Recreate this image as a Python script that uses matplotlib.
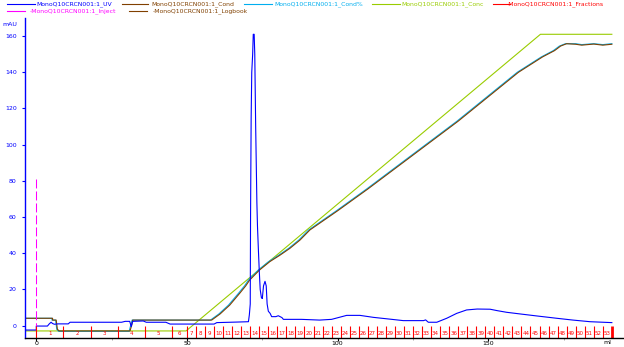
import matplotlib
matplotlib.use("Agg")
import matplotlib.pyplot as plt
from matplotlib.lines import Line2D

RUN = "MonoQ10CRCN001:1"

# UV trace (ml, mAU)
uv_ml = [-3.75, 0, 0, 3.7, 4.3, 4.9, 5.4, 6.0, 7.2, 10.6, 11.2, 28.3, 29.5, 31.0, 31.5, 32.0,
         35.5, 36.5, 43.0, 44.4, 59.0, 59.9, 66.5, 70.4, 70.7, 71.0, 71.1, 71.3, 71.5, 71.8,
         72.0, 72.3, 72.5, 72.8, 73.2, 73.4, 73.7, 74.0, 74.3, 74.7, 75.0, 75.4, 75.9, 76.3,
         76.6, 77.0, 77.6, 78.1, 79.5, 80.3, 81.5, 82.0, 88.0, 94.0, 98.0, 103.0, 107.4,
         111.9, 118.0, 121.8, 128.5, 129.2, 130.1, 132.9, 136.2, 139.5, 142.8, 146.3, 150.6,
         153.0, 156.1, 160.5, 166.0, 172.7, 178.1, 183.8, 191.0]
uv_mau = [-2.4, -2.4, -0.2, -0.2, 1.0, 1.9, 1.2, 0.8, 1.0, 1.0, 1.9, 1.9, 2.4, 2.4, -0.5, 2.4,
          2.6, 1.9, 1.9, 0.9, 0.9, 1.7, 2.0, 2.2, 6.0, 12.0, 60.0, 115.0, 140.0, 150.0,
          161.0, 161.0, 150.0, 110.0, 68.0, 55.0, 42.0, 30.0, 20.0, 15.5, 15.0, 22.0, 24.5, 22.0,
          12.0, 8.0, 6.8, 5.0, 5.0, 5.5, 4.5, 3.5, 3.5, 3.1, 3.5, 5.7, 5.7,
          4.6, 3.5, 2.8, 2.8, 3.2, 1.9, 1.9, 4.1, 6.8, 8.7, 9.2, 9.1,
          8.3, 7.4, 6.5, 5.4, 4.1, 3.1, 2.2, 1.7]

# Conductivity
cond_ml = [-3.75, 5.4, 5.4, 6.6, 7.0, 7.6, 31.1, 31.6, 32.0, 58.2, 61.0, 64.2, 67.5, 69.5,
           70.8, 74.1, 77.5, 80.9, 84.2, 87.5, 90.8, 100, 110, 120, 130, 140, 150, 160, 168,
           172, 174, 176, 179, 181, 185, 188, 191]
cond_val = [4.1, 4.1, 3.1, 3.1, -2.0, -2.9, -2.9, 0.0, 3.1, 3.1, 6.5, 11.4, 17.9, 22.0,
            25.2, 30.8, 35.4, 39.0, 42.8, 47.3, 52.9, 63.5, 75.5, 88.0, 100.5, 113.0, 126.5, 140.0, 148.5,
            152.0, 154.5, 155.8, 155.5, 155.0, 155.6, 155.0, 155.5]

# Conductivity %
condp_ml = [-3.75, 5.2, 5.2, 6.4, 6.8, 7.4, 30.8, 31.3, 31.8, 57.8, 60.6, 63.8, 67.1, 69.1,
            70.4, 73.7, 77.1, 80.5, 83.8, 87.1, 90.4, 99.6, 109.6, 119.6, 129.6, 139.6, 149.6,
            159.6, 167.6, 171.6, 173.6, 175.6, 179, 181, 185, 188, 191]
condp_val = [4.1, 4.1, 3.1, 3.1, -2.0, -3.1, -3.1, 0.0, 3.1, 3.1, 6.5, 11.4, 17.9, 22.0,
             25.2, 30.8, 35.4, 39.0, 42.8, 47.3, 52.9, 63.5, 75.5, 88.0, 100.5, 113.0, 126.5,
             140.0, 148.5, 152.0, 154.5, 155.8, 155.8, 155.3, 155.8, 155.3, 155.8]

# Concentration
conc_ml = [-3.75, 49.7, 167.3, 191.0]
conc_val = [-2.9, -2.9, 161.0, 161.0]

# Injection mark
inject_ml = [0, 0]
inject_val = [81, 0]

# Fractions
frac_bounds = [0, 9, 18, 27, 36, 45] + list(range(50, 192, 3))
frac_labels = [str(i) for i in range(1, len(frac_bounds))]

UV_C = "#0000ff"
COND_C = "#804000"
CONDP_C = "#00aeef"
CONC_C = "#99cc00"
FRAC_C = "#ff0000"
INJ_C = "#ff00ff"

W, H = 624, 347
fig = plt.figure(figsize=(W / 100, H / 100), dpi=100)
ax = fig.add_axes([25 / W, 9 / H, 598 / W, 320 / H])
ax.set_xlim(-3.75, 194.7)
ax.set_ylim(-6.8, 170)

lw = 0.8
ax.plot(conc_ml, conc_val, color=CONC_C, lw=lw)
ax.plot(condp_ml, condp_val, color=CONDP_C, lw=lw)
ax.plot(cond_ml, cond_val, color=COND_C, lw=lw)
ax.plot(uv_ml, uv_mau, color=UV_C, lw=lw)
ax.plot(inject_ml, inject_val, color=INJ_C, lw=0.75, ls=(0, (8.6, 2.9)))

# fraction ticks and numbers
ax.vlines(frac_bounds[:-1], -6.8, 0, color=FRAC_C, lw=0.8)
ax.vlines(frac_bounds[-1], -6.8, 0, color=FRAC_C, lw=2.0)
for i, lab in enumerate(frac_labels):
    mid = (frac_bounds[i] + frac_bounds[i + 1]) / 2
    ax.text(mid, -4.2, lab, color=FRAC_C, fontsize=4, ha="center", va="center")

# axes styling
for s in ["top", "right"]:
    ax.spines[s].set_visible(False)
ax.spines["left"].set_color(UV_C)
ax.spines["left"].set_linewidth(1.0)
ax.spines["bottom"].set_color("black")
ax.spines["bottom"].set_linewidth(1.0)

ax.set_yticks(range(0, 161, 20))
ax.tick_params(axis="y", colors=UV_C, labelsize=4.5, length=2, width=0.8, pad=4)
ax.set_xticks([0, 50, 100, 150])
ax.set_xticks([25, 75, 125, 175], minor=True)
ax.tick_params(axis="x", which="major", colors="black", labelsize=4.5, length=2, width=0.8, pad=0.3)
ax.tick_params(axis="x", which="minor", color="#999999", length=1.5, width=0.6)

fig.text(2 / W, 1 - 24 / H, "mAU", color=UV_C, fontsize=4.5, ha="left", va="center")
fig.text(607 / W, 1 - 342 / H, "ml", color="black", fontsize=4.5, ha="center", va="center")

# legend across the top
legend = [
    (7, 35, 36, 4, UV_C, RUN + "_UV"),
    (122, 148, 151, 4, COND_C, RUN + "_Cond"),
    (244, 272, 274, 4, CONDP_C, RUN + "_Cond%"),
    (372, 400, 401, 4, CONC_C, RUN + "_Conc"),
    (493, 510, 507, 4, FRAC_C, "-" + RUN + "_Fractions"),
    (7, 25, 30, 11, INJ_C, "-" + RUN + "_Inject"),
    (129, 147, 153, 11, COND_C, "-" + RUN + "_Logbook"),
]
for x0, x1, tx, y, c, txt in legend:
    fig.add_artist(Line2D([x0 / W, x1 / W], [1 - y / H, 1 - y / H], color=c, lw=0.8,
                          transform=fig.transFigure))
    fig.text(tx / W, 1 - y / H, txt, color=c, fontsize=4.4, ha="left", va="center")

fig.savefig("out.png", dpi=100)
